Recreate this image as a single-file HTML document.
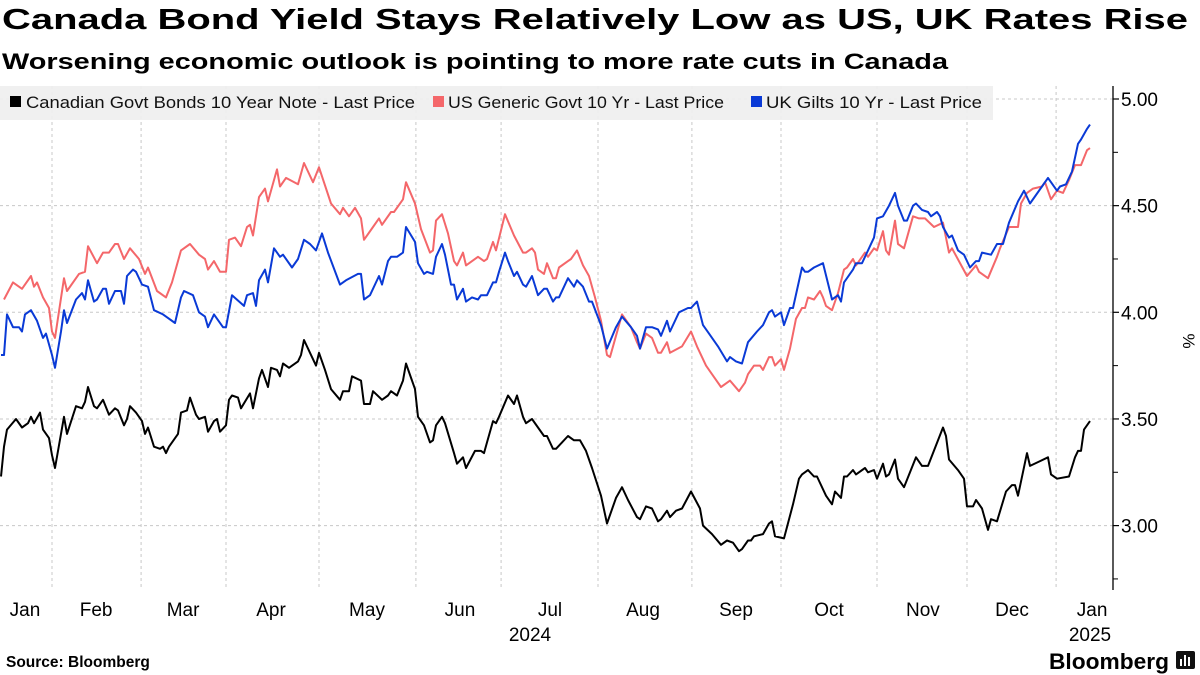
<!DOCTYPE html>
<html><head><meta charset="utf-8"><style>
html,body{margin:0;padding:0;background:#fff;}
svg{display:block;font-family:"Liberation Sans","DejaVu Sans",sans-serif;}
</style></head><body>
<svg id="chart" width="1200" height="675" viewBox="0 0 1200 675" xmlns="http://www.w3.org/2000/svg">
<text x="2" y="29" font-size="29" font-weight="bold" textLength="1186" lengthAdjust="spacingAndGlyphs">Canada Bond Yield Stays Relatively Low as US, UK Rates Rise</text>
<text x="2" y="69" font-size="22" font-weight="bold" textLength="946" lengthAdjust="spacingAndGlyphs">Worsening economic outlook is pointing to more rate cuts in Canada</text>
<g id="grid"></g>
<g id="series"></g>
<g>
<rect x="0" y="86" width="993" height="34" fill="#efefef" fill-opacity="0.92"/>
<rect x="10" y="96" width="11" height="11" fill="#000"/>
<text x="26" y="108" font-size="16.5" fill="#111" textLength="389" lengthAdjust="spacingAndGlyphs">Canadian Govt Bonds 10 Year Note - Last Price</text>
<rect x="433" y="96" width="11" height="11" fill="#f4676a"/>
<text x="448" y="108" font-size="16.5" fill="#111" textLength="276" lengthAdjust="spacingAndGlyphs">US Generic Govt 10 Yr - Last Price</text>
<rect x="751" y="96" width="11" height="11" fill="#0a3ad6"/>
<text x="766" y="108" font-size="16.5" fill="#111" textLength="216" lengthAdjust="spacingAndGlyphs">UK Gilts 10 Yr - Last Price</text>
</g>
<g id="axes"></g>
<text transform="translate(1183,341) rotate(90)" font-size="17" text-anchor="middle">%</text>
<text x="6" y="667" font-size="15.5" font-weight="bold">Source: Bloomberg</text>
<text x="1049" y="669" font-size="22" font-weight="bold" textLength="120" lengthAdjust="spacingAndGlyphs">Bloomberg</text>
<g><rect x="1176" y="651" width="19" height="18" rx="2" fill="#111"/><rect x="1180" y="659" width="2" height="7" fill="#fff"/><rect x="1184" y="655" width="2" height="11" fill="#fff"/><rect x="1188" y="657" width="2" height="9" fill="#fff"/></g>
</svg>
<script>
// days since Dec 31 2023 (calendar days)
const usDays=[15,18,21,24,25,26,28,30,31,32,35,36,40,42,43,46,48,50,52,53,55,57,60,62,63,66,69,71,74,77,80,82,83,85,87,89,90,92,94,96,97,98,100,102,103,106,107,109,113,115,118,120,124,127,128,130,132,134,135,138,140,141,144,145,148,149,152,154,157,158,159,161,163,165,166,168,169,173,175,176,178,179,182,185,188,189,191,192,193,195,196,198,199,200,203,204,206,208,210,212,214,216,217,219,221,224,226,227,229,231,233,234,236,237,241,244,246,249,251,254,257,260,262,263,265,267,268,270,271,272,274,275,277,279,281,282,283,285,287,288,289,291,293,295,296,298,299,302,303,305,306,308,309,310,312,313,315,318,320,322,325,328,330,331,336,339,340,343,346,347,350,353,354,356,358,361,362,364,366,368,370,372,374,376,377];
const usYield=[4.06,4.14,4.11,4.17,4.12,4.14,4.07,4.02,3.91,3.88,4.16,4.10,4.18,4.19,4.31,4.23,4.28,4.28,4.32,4.32,4.25,4.30,4.25,4.18,4.21,4.10,4.07,4.14,4.29,4.32,4.27,4.25,4.20,4.24,4.19,4.19,4.34,4.35,4.31,4.40,4.41,4.36,4.54,4.58,4.52,4.67,4.59,4.63,4.60,4.70,4.61,4.68,4.51,4.46,4.49,4.45,4.49,4.44,4.34,4.40,4.44,4.41,4.47,4.47,4.53,4.61,4.51,4.39,4.28,4.29,4.43,4.46,4.37,4.24,4.22,4.28,4.22,4.26,4.24,4.25,4.33,4.29,4.46,4.36,4.28,4.28,4.30,4.28,4.20,4.18,4.23,4.16,4.16,4.21,4.24,4.25,4.29,4.22,4.17,4.07,3.96,3.80,3.79,3.89,3.99,3.93,3.86,3.83,3.90,3.88,3.81,3.81,3.86,3.81,3.84,3.91,3.84,3.75,3.71,3.65,3.68,3.63,3.67,3.71,3.75,3.75,3.73,3.79,3.79,3.75,3.78,3.73,3.83,3.97,4.02,4.02,4.07,4.06,4.10,4.07,4.03,4.01,4.09,4.20,4.21,4.25,4.22,4.28,4.26,4.30,4.29,4.38,4.29,4.27,4.43,4.32,4.30,4.45,4.44,4.44,4.40,4.42,4.28,4.30,4.17,4.22,4.19,4.16,4.26,4.30,4.40,4.40,4.51,4.56,4.58,4.59,4.61,4.53,4.57,4.56,4.62,4.69,4.69,4.76,4.77];
const ukDays=[14,15,16,18,20,21,22,24,26,28,29,31,32,34,35,36,39,41,42,43,45,46,48,49,50,52,54,55,56,58,59,61,63,65,68,69,72,74,75,78,80,82,83,85,86,88,89,91,95,96,98,99,100,102,103,105,107,108,111,113,115,117,119,121,123,127,129,133,134,135,137,140,141,143,144,146,148,149,152,153,155,156,158,159,161,162,164,165,166,168,169,171,173,174,176,178,179,180,182,183,185,186,188,189,191,193,195,196,198,199,200,203,205,206,208,210,211,214,216,219,221,224,226,227,229,231,233,234,236,237,240,243,244,246,248,250,253,256,257,259,261,263,266,268,270,271,272,274,275,277,278,281,282,283,285,288,291,293,294,295,298,299,301,303,305,306,308,310,312,313,315,316,318,319,321,323,324,326,327,328,330,331,333,335,337,339,340,341,344,346,348,350,353,355,357,359,363,364,366,367,369,371,373,374,376,377];
const ukYield=[3.80,3.80,3.99,3.93,3.93,3.91,3.99,4.01,3.96,3.88,3.90,3.80,3.74,3.91,4.01,3.95,4.06,4.09,4.06,4.15,4.05,4.06,4.11,4.11,4.04,4.10,4.10,4.04,4.17,4.20,4.19,4.13,4.12,4.01,3.99,3.98,3.95,4.07,4.10,4.08,4.00,3.98,3.93,3.99,3.97,3.93,3.93,4.08,4.03,4.08,4.09,4.03,4.15,4.20,4.14,4.30,4.26,4.27,4.21,4.25,4.34,4.32,4.29,4.37,4.28,4.13,4.15,4.18,4.18,4.06,4.08,4.17,4.13,4.24,4.26,4.26,4.28,4.40,4.33,4.23,4.18,4.19,4.18,4.26,4.32,4.27,4.13,4.13,4.06,4.11,4.05,4.07,4.06,4.08,4.08,4.14,4.14,4.19,4.28,4.24,4.17,4.19,4.13,4.12,4.17,4.08,4.11,4.11,4.05,4.07,4.07,4.16,4.12,4.15,4.12,4.05,4.05,3.94,3.83,3.93,3.98,3.93,3.89,3.83,3.93,3.93,3.92,3.89,3.96,3.91,4.00,4.02,4.02,4.05,3.94,3.90,3.84,3.77,3.79,3.77,3.76,3.86,3.91,3.94,4.00,4.01,3.98,4.00,3.94,4.02,4.02,4.21,4.19,4.19,4.21,4.23,4.06,4.08,4.05,4.14,4.20,4.23,4.23,4.29,4.35,4.44,4.45,4.50,4.56,4.50,4.43,4.43,4.50,4.51,4.48,4.47,4.45,4.47,4.45,4.40,4.35,4.36,4.29,4.27,4.21,4.24,4.24,4.28,4.27,4.32,4.32,4.42,4.52,4.57,4.51,4.55,4.63,4.61,4.57,4.59,4.60,4.66,4.79,4.81,4.86,4.88];
const caDays=[14,15,16,19,21,23,24,25,27,28,30,31,32,35,36,39,41,42,43,45,46,48,50,52,53,55,56,57,59,61,62,63,65,67,68,69,70,73,74,76,77,79,80,82,83,85,86,87,89,90,91,93,94,97,98,100,101,103,104,106,107,108,110,113,114,115,117,119,120,122,124,127,128,130,131,134,135,137,138,141,143,144,146,148,149,152,153,155,157,158,159,161,162,165,166,168,169,172,174,175,176,178,179,180,183,185,186,188,189,191,195,196,198,199,201,203,205,207,209,211,214,216,219,221,223,226,227,229,231,233,234,236,237,239,241,244,247,248,251,254,256,258,260,261,263,264,265,268,270,271,272,275,278,280,281,283,285,286,289,291,292,294,295,296,298,299,302,303,305,306,308,309,310,312,313,315,319,321,323,328,329,330,333,335,336,338,339,341,343,344,346,349,351,352,353,356,357,360,363,364,366,370,372,373,374,375,377];
const caYield=[3.23,3.37,3.45,3.50,3.46,3.48,3.51,3.48,3.53,3.45,3.41,3.33,3.27,3.51,3.43,3.56,3.55,3.58,3.65,3.56,3.55,3.59,3.52,3.55,3.54,3.47,3.50,3.56,3.53,3.49,3.43,3.46,3.37,3.36,3.37,3.34,3.37,3.43,3.53,3.54,3.60,3.52,3.50,3.51,3.44,3.49,3.50,3.44,3.47,3.59,3.61,3.60,3.55,3.62,3.55,3.69,3.73,3.65,3.74,3.73,3.70,3.76,3.74,3.77,3.80,3.87,3.81,3.75,3.81,3.73,3.64,3.59,3.63,3.63,3.70,3.68,3.57,3.57,3.63,3.59,3.61,3.63,3.61,3.68,3.76,3.64,3.51,3.47,3.39,3.40,3.47,3.51,3.48,3.34,3.29,3.32,3.27,3.35,3.35,3.34,3.39,3.49,3.48,3.51,3.61,3.57,3.61,3.51,3.48,3.50,3.42,3.42,3.36,3.36,3.39,3.42,3.40,3.40,3.35,3.27,3.14,3.01,3.13,3.18,3.12,3.04,3.03,3.09,3.08,3.02,3.03,3.07,3.04,3.07,3.08,3.16,3.08,3.00,2.96,2.91,2.93,2.92,2.88,2.89,2.93,2.93,2.95,2.96,3.01,3.02,2.95,2.94,3.10,3.22,3.24,3.26,3.23,3.23,3.14,3.10,3.16,3.13,3.23,3.23,3.26,3.24,3.27,3.25,3.26,3.22,3.29,3.23,3.24,3.31,3.22,3.18,3.32,3.28,3.28,3.46,3.42,3.31,3.26,3.22,3.09,3.09,3.12,3.08,2.98,3.03,3.02,3.16,3.19,3.19,3.14,3.34,3.28,3.30,3.32,3.24,3.22,3.23,3.32,3.35,3.35,3.45,3.49];
const yTickValues=[3.00,3.50,4.00,4.50,5.00];
const yMinorValues=[2.75,3.25,3.75,4.25,4.75];
const monthStartDays=[31,60.7,89,120,152.3,180.7,213,244.3,274,306,336,365.7];
const monthLabels=["Jan","Feb","Mar","Apr","May","Jun","Jul","Aug","Sep","Oct","Nov","Dec","Jan"];
const monthLabelDays=[22,45.7,74.7,104,136,167,197,228,259,290,321.3,351,377.7];

const NS="http://www.w3.org/2000/svg";
const AXIS_X=1113, PLOT_TOP=86, PLOT_BOTTOM=590;
function xs(d){return -41+3*d;}
function ys(v){return 99+(5-v)*213.3;}
function mk(tag,attrs,parent){const e=document.createElementNS(NS,tag);for(const k in attrs)e.setAttribute(k,attrs[k]);parent.appendChild(e);return e;}

const grid=document.getElementById('grid');
yTickValues.forEach(v=>{
  const l=mk('line',{x1:0,x2:AXIS_X,y1:ys(v),y2:ys(v),stroke:'#c8c8c8','stroke-width':1,'stroke-dasharray':'3,3'},grid);
  
  
});
monthStartDays.forEach(d=>{
  const l=mk('line',{x1:xs(d),x2:xs(d),y1:PLOT_TOP,y2:PLOT_BOTTOM,stroke:'#c8c8c8','stroke-width':1,'stroke-dasharray':'3,3'},grid);
  
  
});

const series=document.getElementById('series');
function drawLine(days,vals,color,name){
  let d='';
  for(let i=0;i<days.length;i++){d+=(i?'L':'M')+xs(days[i]).toFixed(1)+','+ys(vals[i]).toFixed(1);}
  const p=mk('path',{d:d,fill:'none',stroke:color,'stroke-width':2,'stroke-linejoin':'round'},series);
  
  
}
drawLine(usDays,usYield,'#f4676a','us-10yr-line');
drawLine(ukDays,ukYield,'#0a3ad6','uk-gilts-10yr-line');
drawLine(caDays,caYield,'#000000','canada-10yr-line');

const axes=document.getElementById('axes');
const ax=mk('line',{x1:AXIS_X,x2:AXIS_X,y1:PLOT_TOP,y2:PLOT_BOTTOM,stroke:'#000','stroke-width':1.3},axes);


yTickValues.forEach(v=>{
  const t=mk('line',{x1:AXIS_X,x2:AXIS_X+6,y1:ys(v),y2:ys(v),stroke:'#000','stroke-width':1.2},axes);
  
  
  const tx=mk('text',{x:AXIS_X+8,y:ys(v)+7,'font-size':19},axes);
  tx.textContent=v.toFixed(2);
  
  
});
yMinorValues.forEach(v=>{
  const t=mk('line',{x1:AXIS_X,x2:AXIS_X+5,y1:ys(v),y2:ys(v),stroke:'#000','stroke-width':1},axes);
  
  
});
monthLabels.forEach((m,i)=>{
  const tx=mk('text',{x:xs(monthLabelDays[i]),y:616,'font-size':19,'text-anchor':'middle'},axes);
  tx.textContent=m;
  
  
});
const y1=mk('text',{x:530,y:641,'font-size':19,'text-anchor':'middle'},axes);
y1.textContent='2024';


const y2=mk('text',{x:1090,y:641,'font-size':19,'text-anchor':'middle'},axes);
y2.textContent='2025';


</script>
</body></html>
